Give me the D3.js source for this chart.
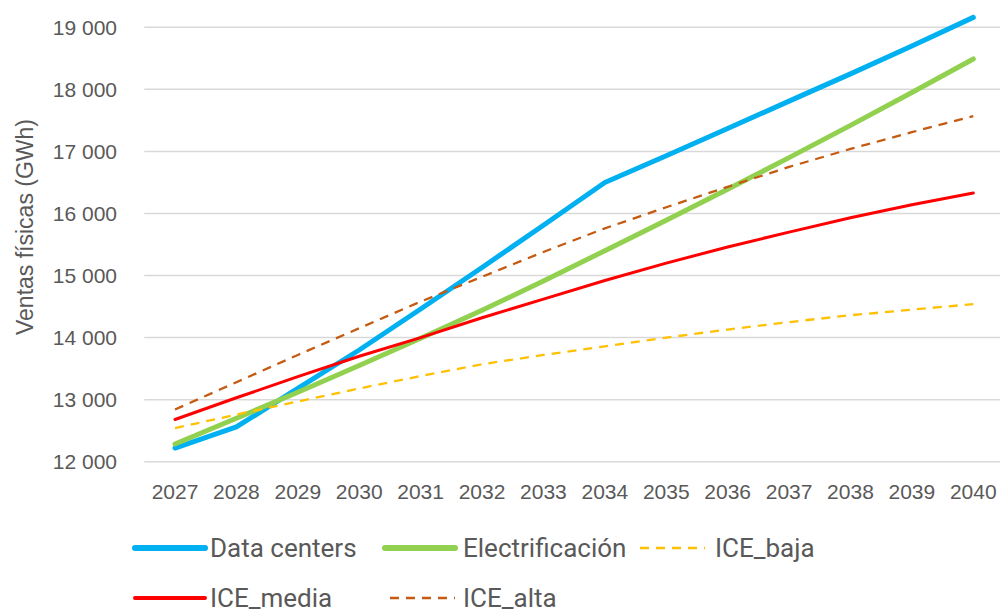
<!DOCTYPE html>
<html>
<head>
<meta charset="utf-8">
<script src="https://cdn.jsdelivr.net/npm/d3@7"></script>
<style>
  body { margin: 0; background: #fff; }
  svg { display: block; }
</style>
</head>
<body>
<div id="chart"></div>
<script>
// años y series (GWh)
const years = [2027, 2028, 2029, 2030, 2031, 2032, 2033, 2034, 2035, 2036, 2037, 2038, 2039, 2040];
const dataCenters = [12220, 12560, 13180, 13800, 14460, 15130, 15810, 16500, 16930, 17370, 17810, 18250, 18700, 19160];
const electrificacion = [12285, 12700, 13120, 13550, 13990, 14440, 14910, 15400, 15890, 16390, 16900, 17420, 17950, 18490];
const iceBaja = [12540, 12760, 12970, 13180, 13380, 13570, 13720, 13860, 14000, 14130, 14250, 14360, 14450, 14540];
const iceMedia = [12680, 13030, 13370, 13700, 14000, 14320, 14620, 14920, 15200, 15460, 15700, 15930, 16140, 16330];
const iceAlta = [12840, 13280, 13720, 14150, 14580, 14980, 15380, 15760, 16100, 16430, 16750, 17040, 17310, 17570];
const yTicks = [12000, 13000, 14000, 15000, 16000, 17000, 18000, 19000];

const series = [
  { name: "Data centers", values: dataCenters, color: "#00B0F0", width: 5, dash: null },
  { name: "Electrificación", values: electrificacion, color: "#92D050", width: 5, dash: null },
  { name: "ICE_baja", values: iceBaja, color: "#FFC000", width: 2.3, dash: "9,7" },
  { name: "ICE_media", values: iceMedia, color: "#FF0000", width: 3, dash: null },
  { name: "ICE_alta", values: iceAlta, color: "#C55A11", width: 2.3, dash: "9,7" }
];

let width = 1000;
let height = 611;

let svg = d3.select("#chart").append("svg")
  .attr("width", width)
  .attr("height", height);

let x = d3.scalePoint()
  .domain(years)
  .range([144.3, 1004])
  .padding(0.5);

let y = d3.scaleLinear()
  .domain([12000, 19000])
  .range([461.7, 27.3]);

// gridlines
svg.selectAll(".grid")
  .data(yTicks)
  .join("line")
  .attr("class", "grid")
  .attr("x1", 144.3)
  .attr("x2", 1004)
  .attr("y1", d => y(d))
  .attr("y2", d => y(d))
  .style("stroke", "#D9D9D9")
  .style("stroke-width", 1.5);

// y labels
svg.selectAll(".ylab")
  .data(yTicks)
  .join("text")
  .attr("class", "ylab")
  .attr("x", 117)
  .attr("y", d => y(d))
  .attr("dy", "0.36em")
  .attr("text-anchor", "end")
  .style("font-family", "'Liberation Sans', Arial, sans-serif")
  .style("font-size", "21px")
  .style("fill", "#595959")
  .text(d => d3.format(",")(d).replace(",", " "));

// x labels
svg.selectAll(".xlab")
  .data(years)
  .join("text")
  .attr("class", "xlab")
  .attr("x", d => x(d))
  .attr("y", 499)
  .attr("text-anchor", "middle")
  .style("font-family", "'Liberation Sans', Arial, sans-serif")
  .style("font-size", "21px")
  .style("fill", "#595959")
  .text(d => d);

// y title
svg.append("text")
  .attr("transform", "translate(33,227) rotate(-90)")
  .attr("text-anchor", "middle")
  .style("font-family", "'Liberation Sans', Arial, sans-serif")
  .style("font-size", "23px")
  .style("fill", "#595959")
  .text("Ventas físicas (GWh)");

let line = d3.line()
  .x((d, i) => x(years[i]))
  .y(d => y(d));

svg.selectAll(".serie")
  .data(series)
  .join("path")
  .attr("class", "serie")
  .attr("d", d => line(d.values))
  .style("fill", "none")
  .style("stroke", d => d.color)
  .style("stroke-width", d => d.width)
  .style("stroke-dasharray", d => d.dash)
  .style("stroke-linecap", d => d.dash ? "butt" : "round")
  .style("stroke-linejoin", "round");

// legend (two rows, last row cut at the bottom like the original)
let legendPos = [
  { lx: 135, tx: 210, y: 548 },
  { lx: 385, tx: 463, y: 548 },
  { lx: 640, tx: 715, y: 548 },
  { lx: 135, tx: 210, y: 598 },
  { lx: 390, tx: 463, y: 598 }
];

let legend = svg.selectAll(".legend")
  .data(series)
  .join("g")
  .attr("class", "legend");

legend.append("line")
  .attr("x1", (d, i) => legendPos[i].lx)
  .attr("x2", (d, i) => legendPos[i].lx + (d.dash ? 65 : 70))
  .attr("y1", (d, i) => legendPos[i].y)
  .attr("y2", (d, i) => legendPos[i].y)
  .style("stroke", d => d.color)
  .style("stroke-width", d => d.dash ? 2.3 : (d.width > 4 ? 6 : 4))
  .style("stroke-dasharray", d => d.dash)
  .style("stroke-linecap", d => d.dash ? "butt" : "round");

legend.append("text")
  .attr("x", (d, i) => legendPos[i].tx)
  .attr("y", (d, i) => legendPos[i].y)
  .attr("dy", "0.36em")
  .style("font-family", "Roboto, 'Noto Sans', sans-serif")
  .style("font-size", "26px")
  .style("fill", "#595959")
  .text(d => d.name);
</script>
</body>
</html>
